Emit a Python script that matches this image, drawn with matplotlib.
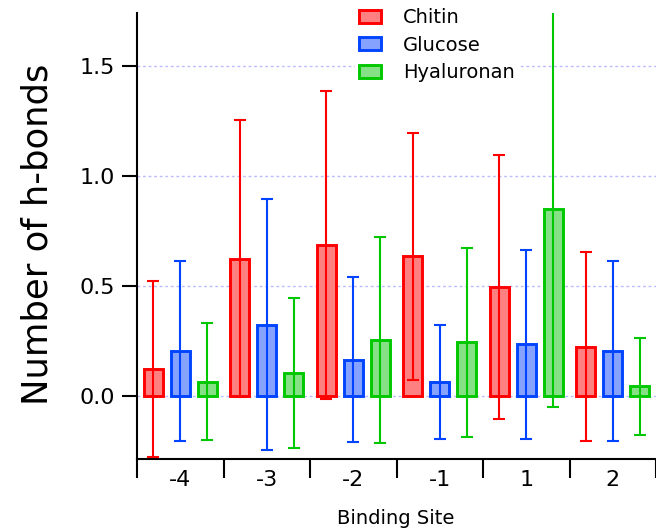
import matplotlib
matplotlib.use('Agg')
import matplotlib.pyplot as plt
import numpy as np

plt.rcParams['font.family'] = ['DejaVu Sans']

# mean number of h-bonds per binding site, with error (std)
sites = ['-4', '-3', '-2', '-1', '1', '2']
chitin = [0.125, 0.625, 0.685, 0.635, 0.495, 0.225]
chitin_err = [0.40, 0.63, 0.70, 0.56, 0.60, 0.43]
glucose = [0.205, 0.325, 0.165, 0.065, 0.235, 0.205]
glucose_err = [0.41, 0.57, 0.375, 0.26, 0.43, 0.41]
hyaluronan = [0.065, 0.105, 0.255, 0.245, 0.85, 0.045]
hyaluronan_err = [0.265, 0.34, 0.47, 0.43, 0.90, 0.22]

series = [
    ('Chitin', chitin, chitin_err, '#ff8080', '#ff0000'),
    ('Glucose', glucose, glucose_err, '#86a2ff', '#0044ff'),
    ('Hyaluronan', hyaluronan, hyaluronan_err, '#86e086', '#00c800'),
]

W, H = 656, 531
fig = plt.figure(figsize=(W / 100, H / 100), dpi=100)
ax = fig.add_axes([137 / W, 72 / H, 519 / W, 446 / H])

centers = np.arange(len(sites)) + 0.5
offsets = [-0.312, 0.0, 0.312]
width = 0.225

handles = []
for (name, vals, err, fill, edge), off in zip(series, offsets):
    b = ax.bar(centers + off, vals, width=width, color=fill, edgecolor=edge,
               linewidth=2.1, label=name, zorder=2)
    ax.errorbar(centers + off, vals, yerr=err, fmt='none', ecolor=edge,
                elinewidth=1.5, capsize=4.5, capthick=1.5, zorder=3)
    handles.append(b)

ax.set_xlim(0, len(sites))
ax.set_ylim(-0.286, 1.741)

# category boundaries as ticks, labels in the middle
ax.set_xticks(np.arange(len(sites) + 1))
ax.set_xticklabels([])
ax.set_xticks(centers, minor=True)
ax.set_xticklabels(sites, minor=True, fontsize=16)
ax.tick_params(axis='x', which='major', length=14, width=1.5, direction='out')
ax.tick_params(axis='x', which='minor', length=0, pad=8)

ax.set_yticks([0.0, 0.5, 1.0, 1.5])
ax.set_yticklabels(['0.0', '0.5', '1.0', '1.5'], fontsize=16)
ax.tick_params(axis='y', length=11, width=1.5, pad=5)

for s in ['top', 'right']:
    ax.spines[s].set_visible(False)
for s in ['left', 'bottom']:
    ax.spines[s].set_linewidth(1.5)

ax.set_axisbelow(True)
ax.yaxis.grid(True, color='#bcbcff', linestyle=(0, (2, 2)), linewidth=1)

fig.text(38 / W, 1 - 234 / H, 'Number of h-bonds', rotation=90,
         ha='center', va='center', fontsize=25.5)
fig.text(396 / W, 1 - 518 / H, 'Binding Site', ha='center', va='center',
         fontsize=14)

ax.legend(handles=handles, loc='upper left', bbox_to_anchor=(355 / W, 1 - 4 / H),
          bbox_transform=fig.transFigure, frameon=True, edgecolor='none',
          facecolor='white', framealpha=1, fontsize=14, handlelength=1.15,
          handleheight=0.65, handletextpad=1.1, labelspacing=0.45,
          borderpad=0.2, borderaxespad=0, fancybox=False)

plt.savefig('out.png', dpi=100)
plt.close('all')
